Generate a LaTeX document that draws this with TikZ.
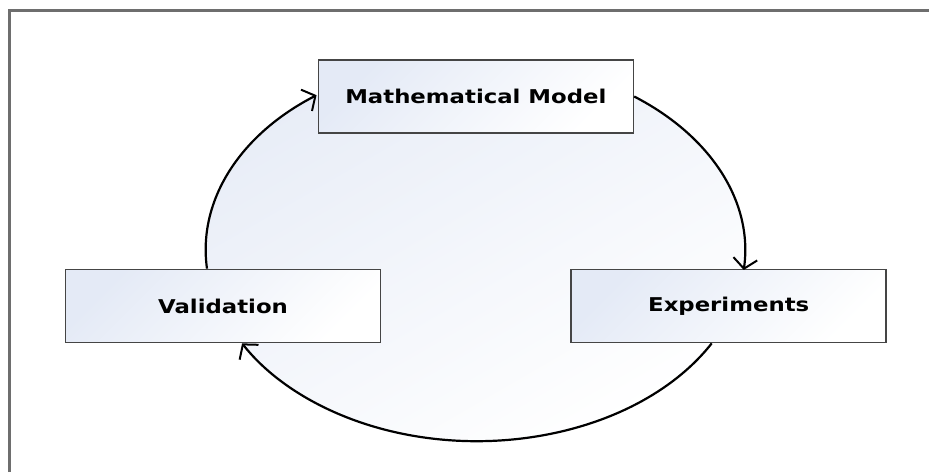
\documentclass[tikz,border=0pt]{standalone}
\usepackage{fontspec}
\newfontfamily\boxfont[FakeStretch=1.2]{DejaVu Sans}
\usetikzlibrary{arrows.meta, positioning, calc, backgrounds}
\definecolor{boxblue}{HTML}{E4EAF6}
\definecolor{ringblue}{HTML}{E8EDF7}
\definecolor{framegrey}{HTML}{6E6E6E}
\definecolor{edgegrey}{HTML}{454545}
\tikzset{
  cyclebox/.style={
    draw=edgegrey, line width=1.7pt, rectangle,
    top color=boxblue, bottom color=white, shading angle=45,
    minimum width=315pt, minimum height=73pt, inner sep=0pt,
    font=\boxfont\bfseries\fontsize{19pt}{21pt}\selectfont
  },
  cyclearrow/.style={-{Straight Barb[length=10pt, width=24pt, line width=2pt]}, line width=2.2pt, black},
  ringfill/.style={top color=ringblue, bottom color=white, shading angle=30}
}

\begin{document}
\begin{tikzpicture}[x=1pt, y=1pt]
\useasboundingbox (0,0) rectangle (929,472);
\draw[framegrey, line width=3pt] (9,0) -- (9,461) -- (929,461);

\node[cyclebox] (valid) at (223,166) {Validation};
\node[cyclebox, right=189pt of valid] (exper) {Experiments};
\node[cyclebox] (model) at ($(valid)!0.5!(exper)+(0,209.5)$) {Mathematical Model};
\coordinate (hub) at ($(valid)!0.5!(exper)+(0,56)$);

% shaded ring behind the boxes
\begin{scope}[on background layer]
\shade[ringfill] (hub) ellipse[x radius=269pt, y radius=191pt];
\end{scope}

\draw[cyclearrow] ([xshift=-16pt]valid.north)
  arc[start angle=185.7, end angle=126, x radius=269pt, y radius=191pt];
\draw[cyclearrow] (model.east)
  arc[start angle=54, end angle=-5.7, x radius=269pt, y radius=191pt];
\draw[cyclearrow] ([xshift=-17pt]exper.south)
  arc[start angle=-29.2, end angle=-150.8, x radius=269pt, y radius=191pt];
\end{tikzpicture}
\end{document}
